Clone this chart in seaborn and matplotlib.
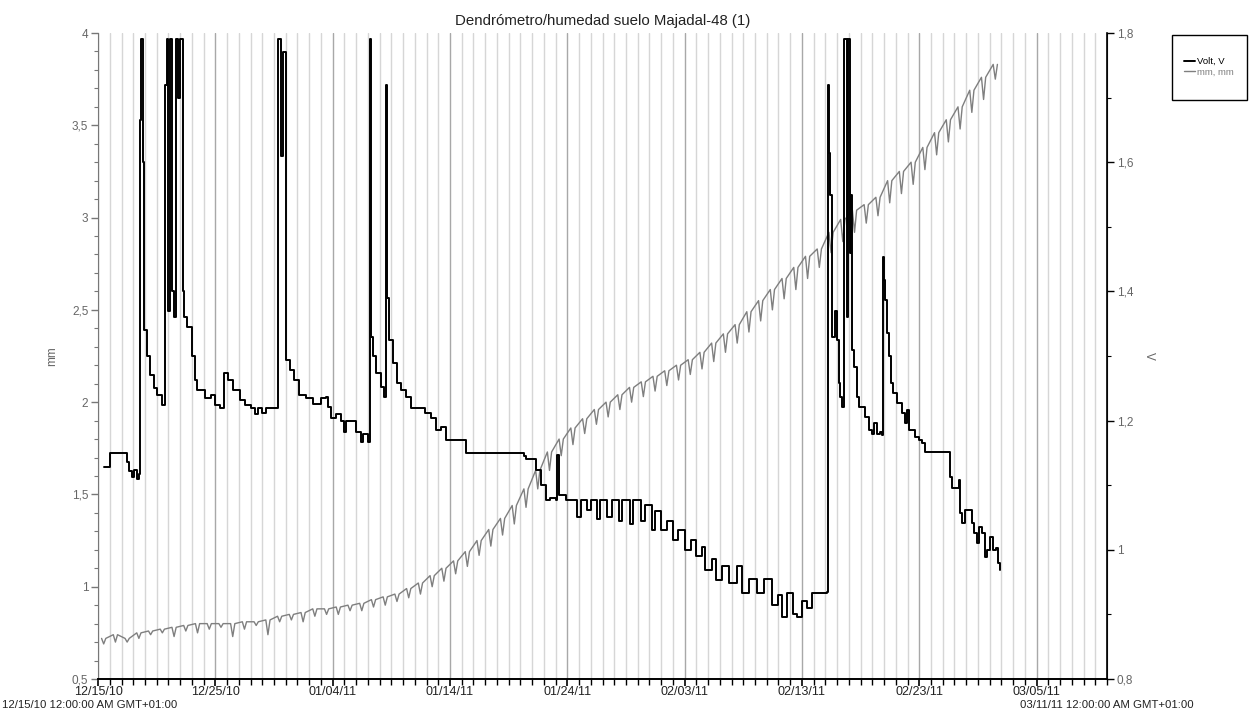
import numpy as np
import pandas as pd
import matplotlib
matplotlib.use('Agg')
import matplotlib.pyplot as plt
import matplotlib.dates as mdates
from matplotlib.patches import Rectangle
from matplotlib.ticker import FixedLocator, MultipleLocator
import seaborn as sns

# --- data ---
start = pd.Timestamp('2010-12-15')
end = pd.Timestamp('2011-03-11')

# dendrometer, mm: daily high and daily low
mm_peak = [0.72, 0.74, 0.72, 0.75, 0.76, 0.77, 0.78, 0.79, 0.80, 0.80,
           0.80, 0.80, 0.81, 0.81, 0.82, 0.84, 0.85, 0.86, 0.88, 0.88,
           0.89, 0.90, 0.91, 0.93, 0.945, 0.96, 0.99, 1.02, 1.06, 1.10,
           1.14, 1.19, 1.25, 1.31, 1.37, 1.44, 1.53, 1.63, 1.73, 1.80,
           1.86, 1.91, 1.96, 2.00, 2.04, 2.08, 2.11, 2.14, 2.17, 2.20,
           2.23, 2.27, 2.32, 2.37, 2.42, 2.49, 2.55, 2.61, 2.67, 2.73,
           2.79, 2.83, 2.92, 2.99, 3.04, 3.07, 3.11, 3.20, 3.25, 3.30,
           3.38, 3.46, 3.53, 3.60, 3.69, 3.76, 3.83]
mm_dip = [0.69, 0.70, 0.70, 0.72, 0.74, 0.75, 0.73, 0.76, 0.75, 0.77,
          0.78, 0.73, 0.77, 0.79, 0.74, 0.81, 0.82, 0.81, 0.84, 0.85,
          0.85, 0.87, 0.87, 0.89, 0.90, 0.92, 0.94, 0.96, 1.00, 1.03,
          1.07, 1.11, 1.17, 1.22, 1.28, 1.34, 1.43, 1.53, 1.63, 1.71,
          1.77, 1.83, 1.88, 1.92, 1.96, 2.00, 2.03, 2.06, 2.09, 2.12,
          2.15, 2.18, 2.22, 2.27, 2.32, 2.38, 2.44, 2.50, 2.56, 2.61,
          2.67, 2.73, 2.81, 2.87, 2.92, 2.97, 3.01, 3.08, 3.13, 3.18,
          3.26, 3.34, 3.41, 3.48, 3.57, 3.64, 3.75]

# soil moisture sensor, V (days since 12/15/10, value)
volt_day = [0.5, 1.0, 2.5, 2.6, 2.9, 3.1, 3.3, 3.5,
            3.6, 3.7, 3.8, 3.9, 4.2, 4.45, 4.8, 5.05, 5.45,
            5.7, 5.85, 6.0, 6.1, 6.3, 6.5, 6.65, 6.85, 7.0, 7.2, 7.35, 7.6, 8.0, 8.3, 8.45, 9.15, 9.6, 10.0, 10.4,
            10.7, 11.1, 11.5, 12.1, 12.5, 13.0, 13.4, 13.6, 14.0, 14.3, 15.2,
            15.3, 15.38, 15.56, 15.73, 15.98, 16.4, 16.7, 17.1, 17.7, 18.3, 18.97, 19.4, 19.57, 19.83, 20.3, 20.7,
            20.94, 21.1, 21.54, 21.97, 22.4, 22.6, 22.99,
            23.16, 23.25, 23.3, 23.42, 23.68, 24.1, 24.36,
            24.53, 24.62, 24.79, 25.13, 25.47, 25.81, 26.24, 26.67, 27.5, 27.86, 28.38, 28.8, 29.23, 29.66, 30.5, 31.37,
            36.32, 36.5, 36.92, 37.35, 37.78, 38.21, 38.5, 39.0, 39.15, 39.32, 39.91, 40.5, 40.8, 41.2, 41.7, 42.0,
            42.5, 42.8, 43.4, 43.8, 44.4, 44.7, 45.3, 45.6, 46.3, 46.6, 47.2, 47.5, 48.0, 48.5, 49.0, 49.4, 50.0,
            50.5, 51.0, 51.45, 51.7, 52.3, 52.7, 53.16, 53.76, 54.44, 54.87, 55.5, 56.15, 56.8, 57.44, 58.0, 58.29,
            58.72, 59.2, 59.57, 60.0, 60.43, 60.85, 61.45, 62.14,
            62.22, 62.31, 62.39, 62.56, 62.82, 62.99, 63.16, 63.25, 63.42,
            63.59, 63.85, 63.9, 64.1, 64.2, 64.27, 64.44, 64.7, 64.87, 65.3, 65.38, 65.64, 65.73, 65.98, 66.15,
            66.4, 66.67, 66.84,
            66.92, 67.01, 67.09, 67.26, 67.44, 67.61, 67.78, 68.12, 68.55, 68.8, 68.97, 69.15, 69.66, 70.0, 70.26,
            70.51, 72.56, 72.65, 72.82, 73.25, 73.42, 73.5, 73.68, 73.93, 74.27, 74.53, 74.7, 74.96, 75.13, 75.38,
            75.64, 75.81, 76.07, 76.32, 76.5, 76.67, 76.84]
volt_val = [1.128, 1.150, 1.136, 1.122, 1.112, 1.124, 1.110, 1.118,
            1.665, 1.79, 1.60, 1.34, 1.30, 1.27, 1.25, 1.24, 1.224,
            1.72, 1.79, 1.37, 1.79, 1.40, 1.36, 1.79, 1.70, 1.79, 1.40, 1.36, 1.345, 1.30, 1.263, 1.247, 1.235, 1.24, 1.224, 1.219,
            1.274, 1.263, 1.247, 1.232, 1.224, 1.219, 1.21, 1.219, 1.212, 1.219, 1.219,
            1.73, 1.79, 1.61, 1.77, 1.294, 1.278, 1.263, 1.24, 1.235, 1.226, 1.235, 1.237, 1.221, 1.204, 1.21, 1.20,
            1.182, 1.20, 1.20, 1.182, 1.167, 1.18, 1.167,
            1.79, 1.40, 1.33, 1.30, 1.274, 1.252, 1.237,
            1.72, 1.39, 1.325, 1.289, 1.258, 1.247, 1.237, 1.22, 1.22, 1.212, 1.204, 1.185, 1.19, 1.17, 1.17, 1.15,
            1.145, 1.14, 1.14, 1.124, 1.10, 1.077, 1.08, 1.077, 1.147, 1.085, 1.077, 1.077, 1.05, 1.077, 1.062, 1.077,
            1.048, 1.077, 1.05, 1.077, 1.045, 1.077, 1.04, 1.077, 1.045, 1.07, 1.03, 1.06, 1.03, 1.045, 1.015, 1.03, 1.0,
            1.015, 0.99, 1.004, 0.969, 0.985, 0.953, 0.975, 0.949, 0.975, 0.933, 0.955, 0.933, 0.955, 0.915, 0.93, 0.896,
            0.933, 0.90, 0.896, 0.92, 0.91, 0.933, 0.933, 0.935,
            1.72, 1.615, 1.55, 1.33, 1.37, 1.325, 1.258, 1.237, 1.221,
            1.79, 1.36, 1.79, 1.46, 1.55, 1.31, 1.283, 1.237, 1.221, 1.221, 1.205, 1.205, 1.185, 1.18, 1.196,
            1.18, 1.182, 1.178,
            1.453, 1.418, 1.387, 1.336, 1.30, 1.258, 1.243, 1.227, 1.212, 1.196, 1.216, 1.185, 1.175, 1.17, 1.165,
            1.151, 1.151, 1.113, 1.096, 1.096, 1.108, 1.057, 1.041, 1.062, 1.062, 1.041, 1.026, 1.01, 1.036, 1.026,
            0.989, 1.00, 1.02, 1.0, 1.003, 0.98, 0.969]

left_ticks = [0.5, 1.0, 1.5, 2.0, 2.5, 3.0, 3.5, 4.0]
left_labels = ['0,5', '1', '1,5', '2', '2,5', '3', '3,5', '4']
right_ticks = [0.8, 1.0, 1.2, 1.4, 1.6, 1.8]
right_labels = ['0,8', '1', '1,2', '1,4', '1,6', '1,8']

# --- build frames ---
# each day: high in the morning, sharp notch around midday, back up by afternoon
n = len(mm_peak)
mm_t = []
mm_v = []
for i in range(n):
    mm_t += [i + 0.30, i + 0.48, i + 0.66]
    mm_v += [mm_peak[i], mm_dip[i], mm_peak[i]]
mm_df = pd.DataFrame({'time': start + pd.to_timedelta(mm_t, unit='D'), 'mm': mm_v})
volt_df = pd.DataFrame({'time': start + pd.to_timedelta(volt_day, unit='D'), 'volt': volt_val})

# --- plot ---
sns.set_style('white')
plt.rcParams['font.family'] = ['Liberation Sans', 'DejaVu Sans']

fig = plt.figure(figsize=(12.49, 7.13), dpi=100)
ax = fig.add_axes([0.0785, 0.0477, 0.8078, 0.906])
ax2 = ax.twinx()

sns.lineplot(data=mm_df, x='time', y='mm', ax=ax, color='#7f7f7f', lw=1.0,
             estimator=None, sort=False, label='mm, mm', legend=False)
sns.lineplot(data=volt_df, x='time', y='volt', ax=ax2, color='black', lw=1.4,
             estimator=None, sort=False, drawstyle='steps-post', label='Volt, V', legend=False)

ax.set_xlim(start, end)
ax.set_ylim(0.5, 4.0)
ax2.set_ylim(0.8, 1.8)

# x axis: major every 10 days, minor daily
major_dates = pd.date_range(start, end, freq='10D')
ax.xaxis.set_major_locator(FixedLocator(mdates.date2num(major_dates)))
ax.xaxis.set_major_formatter(mdates.DateFormatter('%m/%d/%y'))
ax.xaxis.set_minor_locator(mdates.DayLocator())
ax.grid(which='minor', axis='x', color='#d6d6d6', lw=1.0)
ax.grid(which='major', axis='x', color='#a8a8a8', lw=1.0)
ax.grid(which='major', axis='y', visible=False)
ax.set_axisbelow(True)

ax.set_yticks(left_ticks)
ax.set_yticklabels(left_labels)
ax.yaxis.set_minor_locator(MultipleLocator(0.1))
ax2.set_yticks(right_ticks)
ax2.set_yticklabels(right_labels)
ax2.yaxis.set_minor_locator(MultipleLocator(0.1))

ax.tick_params(axis='x', which='major', direction='out', length=5, width=1.2, color='black',
               labelsize=9, labelcolor='#222222', pad=0, bottom=True)
ax.tick_params(axis='x', which='minor', direction='out', length=4, width=1.0, color='black', bottom=True)
ax.tick_params(axis='y', which='major', direction='out', length=5, width=1.0, color='#777777',
               labelsize=8.5, labelcolor='#666666', pad=2, left=True)
ax.tick_params(axis='y', which='minor', direction='out', length=3, width=0.8, color='#777777', left=True)
ax2.tick_params(axis='y', which='major', direction='out', length=5, width=1.0, color='black',
                labelsize=8.5, labelcolor='#666666', pad=2, right=True)
ax2.tick_params(axis='y', which='minor', direction='out', length=3, width=0.8, color='black', right=True)

for a in (ax, ax2):
    a.spines['top'].set_visible(False)
ax.spines['left'].set_color('#777777')
ax.spines['bottom'].set_color('black')
ax.spines['bottom'].set_linewidth(1.4)
ax2.spines['right'].set_color('black')
ax2.spines['right'].set_linewidth(1.2)
ax2.spines['left'].set_visible(False)
ax2.spines['bottom'].set_visible(False)

ax.set_xlabel('')
ax.set_ylabel('mm', fontsize=8.5, color='#666666', labelpad=10)
ax2.set_ylabel('V', fontsize=8.5, color='#666666', rotation=-90, labelpad=16)

ax.set_title('Dendrómetro/humedad suelo Majadal-48 (1)', fontsize=10.8, color='#222222', pad=6)

# start/end stamps under the time axis
fig.text(0.0015, 0.004, '12/15/10 12:00:00 AM GMT+01:00', fontsize=8.2, color='#222222',
         ha='left', va='bottom')
fig.text(0.886, 0.004, '03/11/11 12:00:00 AM GMT+01:00', fontsize=8.2, color='#222222',
         ha='center', va='bottom')

# legend box drawn as a plain rectangle, entries centred in it
fig.patches.append(Rectangle((1172 / 1249, 1 - 100 / 713), 75 / 1249, 65 / 713,
                             transform=fig.transFigure, fill=False, edgecolor='black', lw=1.0))
h1, l1 = ax2.get_legend_handles_labels()
h2, l2 = ax.get_legend_handles_labels()
fig.legend(h1 + h2, l1 + l2, loc='center', bbox_to_anchor=(1209 / 1249, 1 - 67 / 713),
           fontsize=6.8, handlelength=1.1, handletextpad=0.2, labelspacing=0.15,
           frameon=False, labelcolor='linecolor')

fig.savefig('out.png', dpi=100)
